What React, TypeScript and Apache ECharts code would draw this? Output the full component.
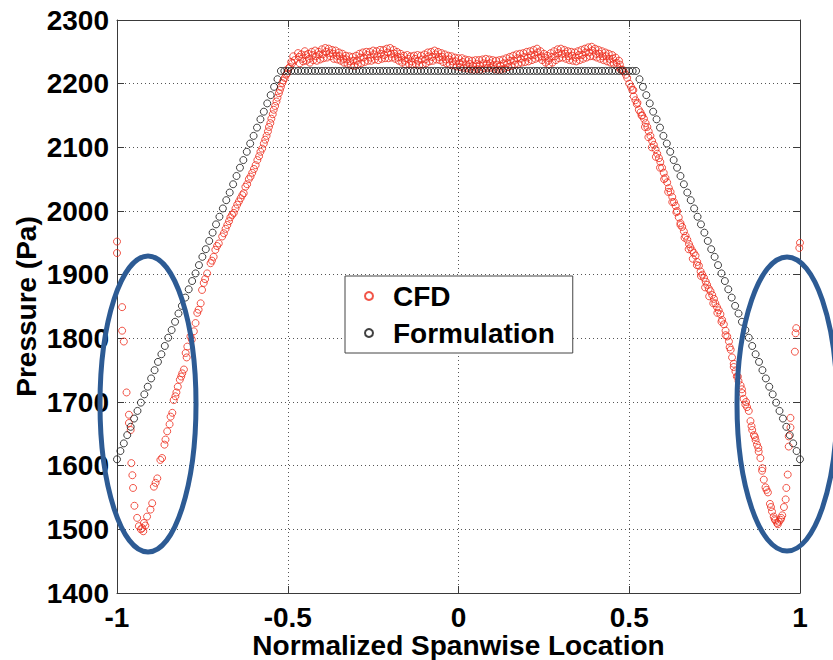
import React, { useEffect, useRef } from "react";
import * as echarts from "echarts";

// ---------- Formulation (black circles), x = -1 .. 1 step 0.01 ----------
const formX0 = -1;
const formStep = 0.01;
const formLeftY = [
  1610, 1623, 1635, 1648, 1661, 1674, 1686, 1699, 1712, 1724, 1737, 1750, 1763, 1775, 1788, 1801,
  1813, 1826, 1839, 1851, 1864, 1877, 1890, 1902, 1915, 1928, 1940, 1953, 1966, 1979, 1991, 2004,
  2017, 2029, 2042, 2055, 2068, 2080, 2093, 2106, 2118, 2131, 2144, 2156, 2169, 2182, 2195, 2207,
];
const formFlatY = [
  2220, 2220, 2220, 2220, 2220, 2220, 2220, 2220, 2220, 2220, 2220, 2220, 2220, 2220, 2220,
  2220, 2220, 2220, 2220, 2220, 2220, 2220, 2220, 2220, 2220, 2220, 2220, 2220, 2220, 2220,
  2220, 2220, 2220, 2220, 2220, 2220, 2220, 2220, 2220, 2220, 2220, 2220, 2220, 2220, 2220,
  2220, 2220, 2220, 2220, 2220, 2220, 2220, 2220, 2220, 2220, 2220, 2220, 2220, 2220, 2220,
  2220, 2220, 2220, 2220, 2220, 2220, 2220, 2220, 2220, 2220, 2220, 2220, 2220, 2220, 2220,
  2220, 2220, 2220, 2220, 2220, 2220, 2220, 2220, 2220, 2220, 2220, 2220, 2220, 2220, 2220,
  2220, 2220, 2220, 2220, 2220, 2220, 2220, 2220, 2220, 2220, 2220, 2220, 2220, 2220, 2220,
];
const formRightY = [
  2207, 2195, 2182, 2169, 2156, 2144, 2131, 2118, 2106, 2093, 2080, 2068, 2055, 2042, 2029, 2017,
  2004, 1991, 1979, 1966, 1953, 1940, 1928, 1915, 1902, 1890, 1877, 1864, 1851, 1839, 1826, 1813,
  1801, 1788, 1775, 1763, 1750, 1737, 1724, 1712, 1699, 1686, 1674, 1661, 1648, 1635, 1623, 1610,
];

// ---------- CFD (red circles) ----------
const cfdLeftTip = [
  [-1.0, 1952], [-1.0, 1934], [-0.985, 1849], [-0.985, 1812], [-0.98, 1795], [-0.972, 1715],
  [-0.965, 1680], [-0.965, 1667], [-0.96, 1656], [-0.958, 1604], [-0.955, 1585], [-0.953, 1565],
  [-0.949, 1537], [-0.941, 1518], [-0.936, 1505], [-0.93, 1500], [-0.926, 1502], [-0.923, 1497],
  [-0.921, 1510], [-0.917, 1506], [-0.912, 1520], [-0.902, 1531], [-0.897, 1541], [-0.892, 1567],
  [-0.887, 1573], [-0.882, 1580], [-0.873, 1609], [-0.868, 1612], [-0.861, 1633], [-0.858, 1641],
  [-0.853, 1654], [-0.843, 1677], [-0.838, 1683], [-0.834, 1703], [-0.829, 1709], [-0.822, 1724],
  [-0.816, 1735],
];
const cfdLeftSlope = [
  [-0.809, 1745], [-0.804, 1751], [-0.799, 1777], [-0.794, 1787], [-0.785, 1803], [-0.775, 1811],
  [-0.77, 1824], [-0.765, 1840], [-0.755, 1855], [-0.751, 1876], [-0.746, 1887], [-0.736, 1902],
  [-0.726, 1918], [-0.717, 1928], [-0.712, 1939], [-0.702, 1949], [-0.692, 1960], [-0.687, 1965],
  [-0.677, 1978], [-0.668, 1990], [-0.658, 1997], [-0.648, 2010], [-0.638, 2020], [-0.629, 2028],
  [-0.619, 2042], [-0.609, 2054], [-0.599, 2066], [-0.589, 2080], [-0.58, 2093], [-0.57, 2106],
  [-0.562, 2118], [-0.555, 2132], [-0.548, 2145], [-0.541, 2159], [-0.533, 2172], [-0.526, 2185],
  [-0.52, 2195], [-0.516, 2201], [-0.509, 2209], [-0.502, 2216], [-0.494, 2226], [-0.487, 2232],
  [-0.48, 2237],
];
const cfdLeftSlope2 = [
  [-0.846, 1665], [-0.826, 1715], [-0.812, 1740], [-0.796, 1770], [-0.781, 1798], [-0.761, 1845],
  [-0.742, 1893], [-0.722, 1922], [-0.707, 1945], [-0.682, 1972], [-0.672, 1984], [-0.663, 1994],
  [-0.653, 2004], [-0.643, 2015], [-0.633, 2025], [-0.624, 2038], [-0.614, 2050], [-0.604, 2060],
  [-0.594, 2072], [-0.584, 2086], [-0.575, 2098], [-0.566, 2112], [-0.558, 2125], [-0.551, 2138],
  [-0.544, 2152], [-0.537, 2165], [-0.53, 2178], [-0.523, 2190], [-0.513, 2205], [-0.505, 2214],
  [-0.498, 2224], [-0.49, 2234], [-0.484, 2243],
];
// plateau, x = -0.47 .. 0.47 step 0.01 (upper edge, middle and lower edge of the band)
const cfdPlateauX0 = -0.47;
const cfdPlateauStep = 0.01;
const cfdPlateauHi = [
  2248, 2246, 2251, 2247, 2250, 2252, 2250, 2254, 2256, 2255,
  2253, 2252, 2249, 2247, 2244, 2243, 2242, 2244, 2247, 2249,
  2250, 2250, 2252, 2251, 2253, 2253, 2255, 2256, 2253, 2250,
  2247, 2244, 2245, 2243, 2244, 2245, 2244, 2246, 2249, 2250,
  2252, 2250, 2248, 2246, 2244, 2243, 2241, 2240, 2240, 2238,
  2237, 2236, 2237, 2237, 2238, 2239, 2238, 2237, 2236, 2237,
  2238, 2240, 2242, 2244, 2246, 2247, 2248, 2250, 2251, 2253,
  2255, 2251, 2247, 2244, 2248, 2251, 2254, 2255, 2253, 2251,
  2250, 2249, 2251, 2253, 2255, 2257, 2258, 2255, 2253, 2251,
  2249, 2247, 2245, 2241, 2236,
];
const cfdPlateauMid = [
  2242, 2239, 2245, 2239, 2245, 2243, 2246, 2246, 2250, 2248,
  2247, 2244, 2243, 2239, 2238, 2235, 2236, 2236, 2241, 2241,
  2245, 2241, 2246, 2243, 2247, 2245, 2249, 2247, 2247, 2242,
  2241, 2236, 2239, 2235, 2239, 2236, 2238, 2238, 2243, 2242,
  2246, 2242, 2242, 2238, 2238, 2235, 2235, 2232, 2234, 2230,
  2231, 2228, 2231, 2229, 2232, 2231, 2232, 2229, 2230, 2228,
  2232, 2232, 2236, 2236, 2240, 2239, 2242, 2241, 2245, 2245,
  2249, 2243, 2241, 2236, 2242, 2243, 2248, 2247, 2247, 2243,
  2244, 2241, 2245, 2245, 2249, 2249, 2252, 2247, 2247, 2243,
  2243, 2239, 2239, 2233, 2230,
];
const cfdPlateauLo = [
  2232, 2235, 2236, 2233, 2237, 2236, 2238, 2240, 2241, 2243,
  2239, 2238, 2236, 2233, 2231, 2229, 2228, 2230, 2232, 2234,
  2236, 2236, 2238, 2237, 2239, 2240, 2240, 2241, 2239, 2236,
  2233, 2230, 2231, 2230, 2231, 2229, 2230, 2232, 2235, 2236,
  2238, 2237, 2234, 2232, 2230, 2229, 2227, 2226, 2225, 2224,
  2223, 2222, 2223, 2222, 2224, 2225, 2225, 2223, 2222, 2222,
  2224, 2226, 2228, 2230, 2231, 2233, 2234, 2235, 2237, 2239,
  2241, 2237, 2233, 2230, 2233, 2237, 2240, 2241, 2239, 2237,
  2236, 2235, 2237, 2239, 2241, 2243, 2243, 2241, 2239, 2237,
  2235, 2233, 2231, 2227, 2222,
];
const cfdRightSlope = [
  [0.48, 2222], [0.484, 2219], [0.49, 2214], [0.494, 2209], [0.5, 2200], [0.505, 2195],
  [0.509, 2190], [0.513, 2180], [0.518, 2174], [0.522, 2168], [0.528, 2159], [0.533, 2155],
  [0.538, 2150], [0.543, 2145], [0.548, 2138], [0.553, 2132], [0.557, 2125], [0.562, 2118],
  [0.567, 2110], [0.572, 2104], [0.577, 2097], [0.582, 2090], [0.587, 2083], [0.591, 2077],
  [0.596, 2068], [0.601, 2060], [0.606, 2052], [0.611, 2045], [0.616, 2036], [0.621, 2030],
  [0.626, 2022], [0.631, 2014], [0.636, 2008], [0.64, 2000], [0.645, 1990], [0.65, 1981],
  [0.655, 1975], [0.66, 1968], [0.665, 1961], [0.67, 1955], [0.675, 1948], [0.679, 1943],
  [0.684, 1938], [0.689, 1934], [0.694, 1930], [0.699, 1920], [0.704, 1914], [0.709, 1905],
  [0.714, 1900], [0.719, 1895], [0.724, 1889], [0.728, 1884], [0.733, 1878], [0.738, 1874],
  [0.743, 1868], [0.748, 1862], [0.752, 1855], [0.757, 1849], [0.762, 1844], [0.767, 1838],
  [0.772, 1829], [0.777, 1822], [0.782, 1812], [0.787, 1803], [0.792, 1795], [0.797, 1782],
  [0.801, 1770], [0.806, 1755], [0.811, 1748], [0.815, 1740], [0.82, 1733], [0.826, 1726],
  [0.831, 1714], [0.835, 1705], [0.84, 1696], [0.845, 1692], [0.85, 1686], [0.855, 1670],
  [0.86, 1656], [0.865, 1648], [0.87, 1640], [0.874, 1633], [0.879, 1622], [0.884, 1612],
];
const cfdRightSlope2 = [
  [0.512, 2190], [0.524, 2170], [0.536, 2150], [0.546, 2132], [0.556, 2116], [0.566, 2100],
  [0.578, 2085], [0.59, 2068], [0.602, 2050], [0.614, 2030], [0.626, 2014], [0.638, 1998],
  [0.65, 1978], [0.662, 1958], [0.674, 1940], [0.686, 1925], [0.698, 1915], [0.71, 1898],
  [0.722, 1880], [0.734, 1866], [0.746, 1855], [0.758, 1840], [0.77, 1826], [0.782, 1805],
  [0.794, 1786], [0.806, 1760], [0.818, 1740], [0.83, 1720], [0.842, 1700], [0.858, 1662],
  [0.868, 1645], [0.878, 1628],
];
const cfdRightTip = [
  [0.889, 1592], [0.89, 1596], [0.894, 1578], [0.899, 1566], [0.902, 1562], [0.906, 1558],
  [0.912, 1540], [0.915, 1535], [0.918, 1528], [0.923, 1520], [0.926, 1516], [0.928, 1514],
  [0.933, 1510], [0.935, 1508], [0.938, 1512], [0.943, 1515], [0.945, 1518], [0.948, 1522],
  [0.953, 1535], [0.958, 1547], [0.96, 1565], [0.964, 1586], [0.967, 1630], [0.967, 1646],
  [0.972, 1660], [0.972, 1675], [0.985, 1779], [0.987, 1808], [0.989, 1816], [0.998, 1942],
  [1.0, 1950],
];

const xMin = -1;
const xMax = 1;
const xInterval = 0.5;
const yMin = 1400;
const yMax = 2300;
const yInterval = 100;

const FONT = "'Liberation Sans', Arial, Helvetica, sans-serif";

export default function App() {
  const ref = useRef<HTMLDivElement>(null);

  useEffect(() => {
    if (!ref.current) return;
    const chart = echarts.init(ref.current, undefined, { renderer: "svg" });

    const formY = [...formLeftY, ...formFlatY, ...formRightY];
    const formData = formY.map((y, i) => [+(formX0 + i * formStep).toFixed(3), y]);

    const plateau: number[][] = [];
    cfdPlateauHi.forEach((y, i) => plateau.push([+(cfdPlateauX0 + i * cfdPlateauStep).toFixed(4), y]));
    cfdPlateauMid.forEach((y, i) =>
      plateau.push([+(cfdPlateauX0 + 0.0025 + i * cfdPlateauStep).toFixed(4), y])
    );
    cfdPlateauLo.forEach((y, i) =>
      plateau.push([+(cfdPlateauX0 + 0.005 + i * cfdPlateauStep).toFixed(4), y])
    );
    const cfdData = [
      ...cfdLeftTip,
      ...cfdLeftSlope,
      ...cfdLeftSlope2,
      ...plateau,
      ...cfdRightSlope,
      ...cfdRightSlope2,
      ...cfdRightTip,
    ];

    const frameColor = "#3a3a3a";
    const gridLine = { show: true, lineStyle: { type: [1, 3] as any, color: "#555", width: 1 } };
    const labelStyle = { fontSize: 28, fontWeight: "bold" as const, color: "#000", fontFamily: FONT };

    chart.setOption({
      animation: false,
      grid: {
        left: 117,
        right: 33,
        top: 20,
        bottom: 67,
        show: false,
        containLabel: false,
        outerBoundsMode: "none",
      },
      xAxis: [
        {
          type: "value",
          min: xMin,
          max: xMax,
          interval: xInterval,
          position: "bottom",
          axisLine: { show: true, onZero: false, lineStyle: { color: frameColor, width: 1 } },
          axisTick: { show: true, inside: true, length: 7, lineStyle: { color: frameColor } },
          axisLabel: {
            ...labelStyle,
            lineHeight: 24,
            margin: 12,
            formatter: (v: number) => String(v),
          },
          splitLine: gridLine,
          name: "Normalized Spanwise Location",
          nameLocation: "middle",
          nameGap: 38,
          nameMoveOverlap: false,
          nameTextStyle: { ...labelStyle, lineHeight: 28 },
        },
        {
          type: "value",
          min: xMin,
          max: xMax,
          interval: xInterval,
          position: "top",
          axisLine: { show: true, onZero: false, lineStyle: { color: frameColor, width: 1 } },
          axisTick: { show: true, inside: true, length: 7, lineStyle: { color: frameColor } },
          axisLabel: { show: false },
          splitLine: { show: false },
        },
      ],
      yAxis: [
        {
          type: "value",
          min: yMin,
          max: yMax,
          interval: yInterval,
          position: "left",
          axisLine: { show: true, onZero: false, lineStyle: { color: frameColor, width: 1 } },
          axisTick: { show: true, inside: true, length: 7, lineStyle: { color: frameColor } },
          axisLabel: { ...labelStyle, margin: 8, formatter: (v: number) => String(v) },
          splitLine: gridLine,
          name: "Pressure (Pa)",
          nameLocation: "middle",
          nameGap: 77,
          nameMoveOverlap: false,
          nameTextStyle: labelStyle,
        },
        {
          type: "value",
          min: yMin,
          max: yMax,
          interval: yInterval,
          position: "right",
          axisLine: { show: true, onZero: false, lineStyle: { color: frameColor, width: 1 } },
          axisTick: { show: true, inside: true, length: 7, lineStyle: { color: frameColor } },
          axisLabel: { show: false },
          splitLine: { show: false },
        },
      ],
      legend: {
        data: ["CFD", "Formulation"],
        orient: "vertical",
        left: 345,
        top: 276,
        padding: [3, 18, 3, 19],
        itemWidth: 8,
        itemHeight: 8,
        itemGap: 3,
        backgroundColor: "#fff",
        borderColor: "#444",
        borderWidth: 1,
        borderRadius: 0,
        selectedMode: false,
        textStyle: { ...labelStyle, lineHeight: 34, padding: [0, 0, 0, 15] },
        z: 10,
      },
      series: [
        {
          type: "scatter",
          name: "CFD",
          data: cfdData,
          symbol: "circle",
          symbolSize: 7,
          itemStyle: { color: "rgba(0,0,0,0)", borderColor: "#ee2a1a", borderWidth: 1 },
          silent: true,
          z: 2,
        },
        {
          type: "scatter",
          name: "Formulation",
          data: formData,
          symbol: "circle",
          symbolSize: 7,
          itemStyle: { color: "rgba(0,0,0,0)", borderColor: "#111", borderWidth: 1 },
          silent: true,
          z: 3,
        },
      ],
      graphic: [
        {
          type: "ellipse",
          shape: { cx: 148, cy: 404, rx: 48, ry: 148 },
          style: { fill: "none", stroke: "#2d5b94", lineWidth: 5 },
          z: 100,
          silent: true,
        },
        {
          type: "ellipse",
          shape: { cx: 787, cy: 404, rx: 50, ry: 147 },
          style: { fill: "none", stroke: "#2d5b94", lineWidth: 5 },
          z: 100,
          silent: true,
        },
      ],
    });

    return () => chart.dispose();
  }, []);

  return (
    <div
      ref={ref}
      style={{ position: "fixed", left: 0, top: 0, width: 833, height: 660, background: "#fff" }}
    />
  );
}
